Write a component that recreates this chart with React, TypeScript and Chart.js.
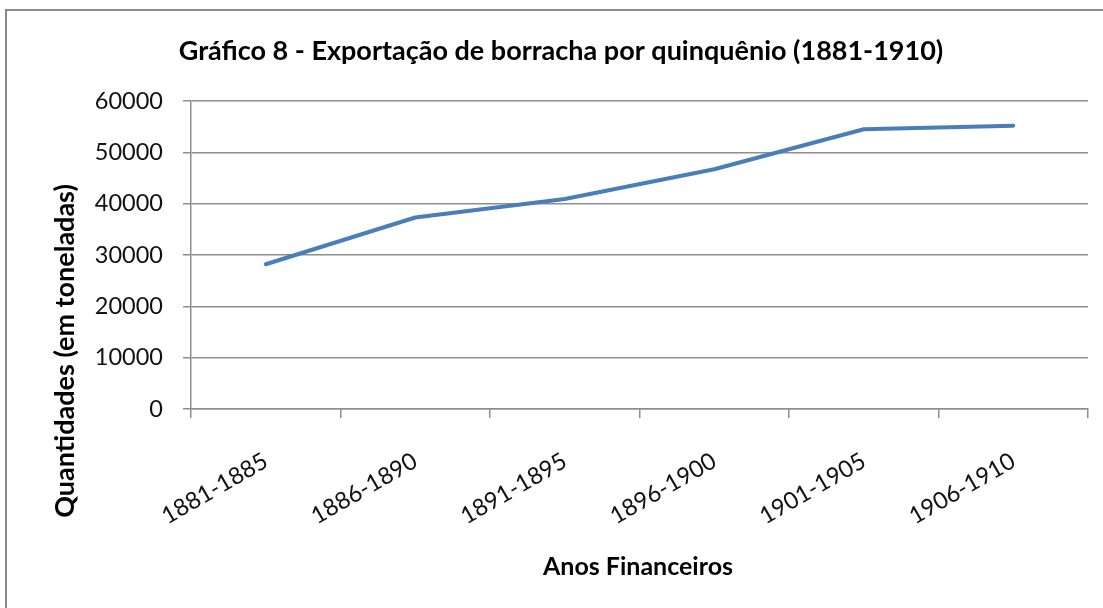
import React, { useEffect, useRef } from "react";
import { Chart, registerables } from "chart.js";

Chart.register(...registerables);

const categories = ["1881-1885", "1886-1890", "1891-1895", "1896-1900", "1901-1905", "1906-1910"];
const exportValues = [28200, 37300, 40900, 46700, 54500, 55200];
const yTicks = [0, 10000, 20000, 30000, 40000, 50000, 60000];

const titleText = "Gráfico 8 - Exportação de borracha por quinquênio (1881-1910)";
const yTitleText = "Quantidades (em toneladas)";
const xTitleText = "Anos Financeiros";

const FONT = "Lato, 'Open Sans', sans-serif";
const GRID = "#8e8e8e";

const decorPlugin = {
  id: "decor",
  beforeDraw(chart: any) {
    const ctx = chart.ctx;
    ctx.save();
    ctx.fillStyle = "#ffffff";
    ctx.fillRect(0, 0, chart.width, chart.height);
    ctx.strokeStyle = "#8a8a8a";
    ctx.lineWidth = 2;
    ctx.beginPath();
    ctx.moveTo(6, chart.height + 5);
    ctx.lineTo(6, 10);
    ctx.lineTo(chart.width + 5, 10);
    ctx.stroke();
    ctx.restore();
  },
  afterDraw(chart: any) {
    const ctx = chart.ctx;
    ctx.save();
    ctx.fillStyle = "#000000";
    ctx.textAlign = "center";
    ctx.textBaseline = "alphabetic";
    ctx.font = `bold 27px ${FONT}`;
    ctx.fillText(titleText, 561, 60);
    ctx.font = `bold 25px ${FONT}`;
    ctx.fillText(xTitleText, 638, 575);
    ctx.font = `bold 27px ${FONT}`;
    ctx.translate(74, 351);
    ctx.rotate(-Math.PI / 2);
    ctx.fillText(yTitleText, 0, 0);
    ctx.restore();
  },
};

export default function App() {
  const ref = useRef<HTMLCanvasElement | null>(null);
  useEffect(() => {
    if (!ref.current) return;
    const chart = new Chart(ref.current, {
      type: "line",
      data: {
        labels: categories,
        datasets: [
          {
            data: exportValues,
            borderColor: "#4a7ebb",
            borderWidth: 4,
            pointRadius: 0,
            tension: 0,
            fill: false,
            borderCapStyle: "round",
            borderJoinStyle: "round",
          },
        ],
      },
      options: {
        animation: false,
        responsive: false,
        maintainAspectRatio: false,
        layout: { padding: { left: 0, top: 101, right: 15, bottom: 0 } },
        plugins: {
          legend: { display: false },
          title: { display: false },
          tooltip: { enabled: false },
        },
        scales: {
          x: {
            type: "category",
            offset: true,
            afterFit(scale: any) {
              scale.height = 199;
            },
            grid: {
              offset: true,
              drawOnChartArea: false,
              drawTicks: true,
              tickLength: 9,
              color: GRID,
              lineWidth: 1.5,
            },
            border: { display: true, color: GRID, width: 1.5 },
            ticks: {
              autoSkip: false,
              minRotation: 30,
              maxRotation: 30,
              padding: 29,
              color: "#111111",
              font: { family: FONT, size: 23.5 },
            },
          },
          y: {
            min: 0,
            max: 60000,
            afterFit(scale: any) {
              scale.width = 191;
            },
            afterBuildTicks(scale: any) {
              scale.ticks = yTicks.map((v) => ({ value: v }));
            },
            grid: {
              drawTicks: true,
              tickLength: 8,
              color: GRID,
              lineWidth: 1.5,
            },
            border: { display: true, color: GRID, width: 1.5 },
            ticks: {
              padding: 20,
              color: "#111111",
              font: { family: FONT, size: 23.5 },
              callback: (v: any) => String(v),
            },
          },
        },
      },
      plugins: [decorPlugin],
    });
    return () => chart.destroy();
  }, []);
  return (
    <div style={{ position: "absolute", left: 0, top: 0, width: 1103, height: 608 }}>
      <canvas ref={ref} width={1103} height={608} style={{ width: 1103, height: 608, display: "block" }} />
    </div>
  );
}
